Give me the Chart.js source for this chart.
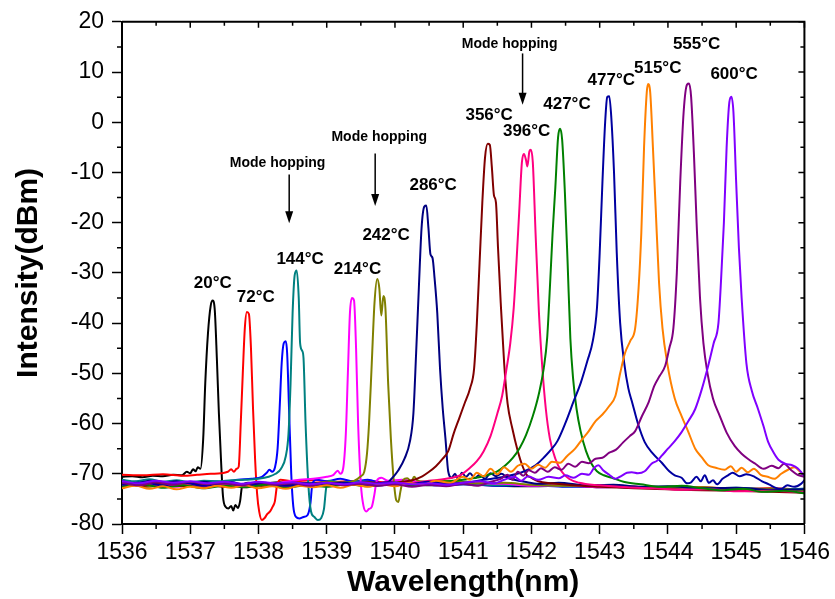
<!DOCTYPE html>
<html>
<head>
<meta charset="utf-8">
<title>Wavelength vs temperature</title>
<script src="https://cdn.jsdelivr.net/npm/chart.js@4/dist/chart.umd.min.js"></script>
<style>
  html, body { margin: 0; padding: 0; background: #fff; }
  #wrap { width: 835px; height: 599px; }
</style>
</head>
<body>
<div id="wrap"><canvas id="chart" width="835" height="599"></canvas></div>
<script>
// Spectra: [wavelength nm, intensity dBm]
const s20 = [[1536.0,-70.6],[1536.15,-70.5],[1536.3,-70.7],[1536.45,-70.4],[1536.6,-70.5],[1536.75,-70.2],[1536.88,-70.3],[1536.95,-69.6],[1537.0,-69.9],[1537.04,-69.1],[1537.08,-69.5],[1537.11,-68.7],[1537.15,-69.0],[1537.19,-63],[1537.22,-52],[1537.26,-42],[1537.3,-36.5],[1537.33,-35.5],[1537.36,-37.5],[1537.39,-47],[1537.42,-58],[1537.45,-67],[1537.48,-74.5],[1537.52,-76.6],[1537.56,-76.9],[1537.6,-76.4],[1537.63,-77.3],[1537.66,-76.2],[1537.7,-76.8],[1537.73,-75.5],[1537.76,-72.5],[1537.85,-71.8],[1538.0,-72.1],[1538.3,-71.7],[1538.6,-72.0],[1539.0,-71.8],[1539.5,-72.2],[1540.0,-71.9],[1540.5,-72.3],[1541.0,-72.1],[1541.5,-72.4],[1542.0,-72.5],[1542.5,-72.4],[1543.0,-72.7],[1543.5,-72.6],[1544.0,-72.9],[1544.5,-72.8],[1545.0,-73.1],[1545.5,-73.0],[1546.0,-73.3]]
const s72 = [[1536.0,-70.2],[1536.3,-70.3],[1536.6,-70.1],[1536.9,-70.4],[1537.1,-70.2],[1537.3,-70.0],[1537.45,-69.9],[1537.55,-69.6],[1537.6,-69.1],[1537.64,-69.6],[1537.68,-69.0],[1537.71,-68.6],[1537.74,-60],[1537.77,-50],[1537.8,-41],[1537.83,-37.8],[1537.86,-38.2],[1537.89,-45],[1537.92,-57],[1537.95,-67],[1537.98,-74],[1538.01,-77.5],[1538.05,-79.2],[1538.09,-78.8],[1538.13,-78.0],[1538.17,-77.5],[1538.21,-76.5],[1538.24,-75.5],[1538.27,-72.5],[1538.32,-71.2],[1538.5,-71.5],[1538.8,-71.3],[1539.1,-71.6],[1539.5,-71.4],[1540.0,-71.8],[1540.5,-71.6],[1541.0,-72.0],[1541.5,-71.9],[1542.0,-72.3],[1542.5,-72.2],[1543.0,-72.5],[1543.5,-72.6],[1544.0,-72.8],[1544.5,-72.7],[1545.0,-73.0],[1545.5,-72.9],[1546.0,-73.2]]
const sHop = [[1536.0,-71.8],[1536.1,-72.4],[1536.2,-71.6],[1536.35,-72.6],[1536.5,-71.9],[1536.7,-72.3],[1536.9,-71.7],[1537.1,-71.9],[1537.3,-71.5],[1537.5,-71.6],[1537.7,-71.2],[1537.9,-71.0],[1538.05,-70.6],[1538.12,-69.8],[1538.16,-69.2],[1538.2,-69.6],[1538.24,-68.8],[1538.28,-65],[1538.31,-57],[1538.34,-48],[1538.37,-44],[1538.4,-43.6],[1538.42,-46],[1538.45,-58],[1538.48,-70],[1538.51,-76.5],[1538.55,-78.6],[1538.6,-78.9],[1538.66,-78.6],[1538.72,-78.2],[1538.76,-76],[1538.79,-72],[1538.85,-71.2],[1539.0,-71.5],[1539.2,-71.0],[1539.4,-71.6],[1539.6,-71.2],[1539.8,-71.9],[1540.0,-72.2],[1540.3,-72.0],[1540.6,-72.3],[1541.0,-72.1],[1541.5,-72.4],[1542.0,-72.3],[1542.5,-72.6],[1543.0,-72.5],[1543.5,-72.8],[1544.0,-72.7],[1544.5,-73.0],[1545.0,-72.9],[1545.5,-73.2],[1546.0,-73.0]]
const s144 = [[1536.0,-71.2],[1536.2,-71.5],[1536.4,-71.1],[1536.6,-71.6],[1536.8,-71.3],[1537.0,-71.7],[1537.2,-71.4],[1537.4,-71.5],[1537.6,-71.3],[1537.8,-71.2],[1538.0,-71.0],[1538.15,-70.6],[1538.25,-70.0],[1538.33,-69.0],[1538.4,-66.5],[1538.44,-62],[1538.47,-52],[1538.5,-38],[1538.53,-30.5],[1538.56,-29.5],[1538.59,-35],[1538.61,-44],[1538.64,-45.5],[1538.66,-47],[1538.69,-60],[1538.73,-72],[1538.77,-77.5],[1538.82,-78.6],[1538.87,-79.2],[1538.92,-78.8],[1538.96,-77],[1538.99,-73],[1539.03,-71.4],[1539.2,-71.8],[1539.5,-71.5],[1539.8,-71.9],[1540.1,-71.6],[1540.5,-72.0],[1541.0,-71.9],[1541.5,-72.3],[1542.0,-72.2],[1542.5,-72.5],[1543.0,-72.4],[1543.5,-72.7],[1544.0,-72.6],[1544.5,-72.9],[1545.0,-72.8],[1545.5,-73.1],[1546.0,-73.0]]
const s214 = [[1536.0,-72.3],[1536.2,-71.8],[1536.4,-72.5],[1536.6,-72.0],[1536.8,-72.6],[1537.0,-72.1],[1537.2,-71.7],[1537.4,-72.2],[1537.6,-71.9],[1537.8,-72.4],[1538.0,-71.8],[1538.2,-72.0],[1538.4,-71.6],[1538.6,-71.2],[1538.8,-71.0],[1539.0,-70.6],[1539.1,-70.2],[1539.16,-69.4],[1539.2,-70.0],[1539.24,-69.0],[1539.28,-62],[1539.31,-50],[1539.34,-38],[1539.37,-35],[1539.4,-35.5],[1539.43,-45],[1539.46,-60],[1539.5,-72],[1539.54,-76.5],[1539.58,-77.5],[1539.62,-77.0],[1539.66,-76.6],[1539.7,-74],[1539.73,-71.5],[1539.8,-70.8],[1539.9,-71.4],[1540.1,-71.2],[1540.4,-71.7],[1540.8,-71.5],[1541.2,-71.9],[1541.6,-72.0],[1542.0,-72.4],[1542.5,-72.3],[1543.0,-72.7],[1543.5,-72.6],[1544.0,-72.9],[1544.5,-73.1],[1545.0,-73.0],[1545.5,-73.4],[1546.0,-73.5]]
const s242 = [[1536.0,-72.8],[1536.2,-72.2],[1536.4,-72.6],[1536.6,-72.0],[1536.8,-72.5],[1537.0,-71.9],[1537.2,-72.4],[1537.4,-72.1],[1537.6,-72.6],[1537.8,-72.2],[1538.0,-72.5],[1538.2,-71.9],[1538.4,-72.3],[1538.6,-71.8],[1538.8,-72.1],[1539.0,-71.6],[1539.2,-71.8],[1539.4,-71.4],[1539.5,-70.5],[1539.55,-69.6],[1539.59,-66],[1539.62,-60],[1539.66,-48],[1539.7,-36],[1539.74,-31.2],[1539.77,-33],[1539.8,-38.5],[1539.83,-34.6],[1539.86,-37],[1539.9,-52],[1539.94,-63],[1539.98,-71],[1540.02,-75.3],[1540.05,-75.6],[1540.08,-73.5],[1540.12,-71.2],[1540.18,-70.9],[1540.24,-71.5],[1540.28,-70.6],[1540.33,-71.3],[1540.5,-71.6],[1540.8,-71.4],[1541.2,-71.9],[1541.6,-71.8],[1542.0,-72.2],[1542.5,-72.4],[1543.0,-72.3],[1543.5,-72.7],[1544.0,-72.8],[1544.5,-72.7],[1545.0,-73.1],[1545.5,-73.0],[1546.0,-73.3]]
const s286 = [[1536.0,-71.5],[1536.2,-72.0],[1536.4,-71.4],[1536.6,-71.9],[1536.8,-71.5],[1537.0,-72.1],[1537.2,-71.6],[1537.4,-72.0],[1537.6,-71.7],[1537.8,-72.2],[1538.0,-71.8],[1538.3,-72.3],[1538.6,-71.9],[1538.9,-72.2],[1539.2,-71.8],[1539.5,-72.1],[1539.7,-72.4],[1539.85,-72.2],[1539.95,-71.0],[1540.05,-69.3],[1540.14,-67.0],[1540.22,-63.5],[1540.27,-58],[1540.31,-46],[1540.35,-33],[1540.39,-21],[1540.43,-16.8],[1540.46,-16.6],[1540.49,-21],[1540.52,-26.3],[1540.55,-27],[1540.58,-31],[1540.62,-38],[1540.66,-49],[1540.7,-57],[1540.74,-63],[1540.78,-69.5],[1540.83,-70.8],[1540.88,-70.0],[1540.93,-71.2],[1540.98,-69.8],[1541.04,-70.6],[1541.1,-69.9],[1541.17,-70.9],[1541.24,-70.2],[1541.32,-71.0],[1541.4,-69.9],[1541.48,-70.5],[1541.56,-70.0],[1541.65,-70.8],[1541.75,-71.2],[1541.9,-71.6],[1542.1,-72.0],[1542.4,-71.8],[1542.8,-72.3],[1543.2,-72.2],[1543.6,-72.6],[1544.0,-72.5],[1544.5,-72.9],[1545.0,-72.8],[1545.5,-73.2],[1546.0,-73.1]]
const s356 = [[1536.0,-72.0],[1536.3,-72.4],[1536.6,-71.9],[1536.9,-72.5],[1537.2,-72.0],[1537.5,-72.6],[1537.8,-72.1],[1538.1,-72.4],[1538.4,-71.9],[1538.7,-72.3],[1539.0,-71.8],[1539.3,-72.2],[1539.6,-71.7],[1539.9,-72.0],[1540.1,-71.6],[1540.25,-71.3],[1540.4,-70.5],[1540.5,-69.6],[1540.6,-68.5],[1540.7,-67.0],[1540.78,-65.5],[1540.86,-62],[1540.94,-59],[1541.02,-56],[1541.1,-53],[1541.16,-49],[1541.2,-40],[1541.24,-28],[1541.28,-16],[1541.32,-7],[1541.36,-4.3],[1541.39,-4.5],[1541.42,-9],[1541.45,-14.5],[1541.48,-16],[1541.51,-25],[1541.55,-36],[1541.6,-48],[1541.65,-56],[1541.72,-61],[1541.8,-65.5],[1541.87,-68.5],[1541.93,-70.2],[1542.0,-70.8],[1542.1,-71.5],[1542.3,-71.9],[1542.6,-72.3],[1543.0,-72.6],[1543.5,-72.9],[1544.0,-73.1],[1544.5,-73.3],[1545.0,-73.4],[1545.5,-73.6],[1546.0,-73.8]]
const s396 = [[1536.0,-72.4],[1536.3,-71.9],[1536.6,-72.5],[1536.9,-72.0],[1537.2,-72.6],[1537.5,-72.1],[1537.8,-72.7],[1538.1,-72.2],[1538.4,-72.5],[1538.7,-72.0],[1539.0,-72.4],[1539.3,-71.9],[1539.6,-72.2],[1539.9,-71.7],[1540.2,-71.9],[1540.5,-71.4],[1540.75,-71.0],[1540.95,-70.3],[1541.1,-68.8],[1541.2,-67.5],[1541.3,-65.5],[1541.4,-62.5],[1541.5,-58],[1541.57,-54.5],[1541.63,-49.5],[1541.69,-44],[1541.74,-37],[1541.78,-28],[1541.82,-18],[1541.86,-8],[1541.89,-6.3],[1541.92,-7.5],[1541.94,-8.8],[1541.97,-5.8],[1541.99,-5.5],[1542.02,-8],[1542.06,-22],[1542.11,-38],[1542.16,-49],[1542.21,-57],[1542.27,-63],[1542.35,-67],[1542.44,-69.5],[1542.55,-71.0],[1542.7,-71.8],[1543.0,-72.3],[1543.4,-72.7],[1543.8,-72.9],[1544.2,-73.2],[1544.6,-73.1],[1545.0,-73.5],[1545.5,-73.4],[1546.0,-73.7]]
const s427 = [[1536.0,-72.6],[1536.3,-72.1],[1536.6,-72.8],[1536.9,-72.3],[1537.2,-72.9],[1537.5,-72.4],[1537.8,-72.7],[1538.1,-72.2],[1538.4,-72.8],[1538.7,-72.3],[1539.0,-72.6],[1539.3,-72.1],[1539.6,-72.5],[1539.9,-72.0],[1540.2,-72.3],[1540.5,-71.8],[1540.8,-71.5],[1541.1,-71.0],[1541.35,-70.3],[1541.5,-69.5],[1541.62,-68.3],[1541.73,-66.8],[1541.83,-64.8],[1541.92,-62.3],[1542.02,-58.5],[1542.11,-54],[1542.18,-49],[1542.23,-43],[1542.27,-33],[1542.31,-22],[1542.35,-13],[1542.39,-3],[1542.42,-1.3],[1542.45,-3.5],[1542.49,-14],[1542.53,-28],[1542.57,-43],[1542.61,-51],[1542.66,-57],[1542.72,-61.5],[1542.8,-65.5],[1542.88,-68],[1542.96,-69.5],[1543.06,-70.3],[1543.18,-70.8],[1543.35,-71.6],[1543.6,-72.1],[1543.9,-72.6],[1544.2,-72.4],[1544.5,-72.9],[1544.8,-73.3],[1545.1,-73.0],[1545.4,-73.6],[1545.7,-73.4],[1546.0,-73.9]]
const s477 = [[1536.0,-72.2],[1536.3,-71.7],[1536.6,-72.3],[1536.9,-71.8],[1537.2,-72.4],[1537.5,-71.9],[1537.8,-72.3],[1538.1,-71.8],[1538.4,-72.4],[1538.7,-71.9],[1539.0,-72.3],[1539.3,-71.8],[1539.6,-72.2],[1539.9,-71.7],[1540.2,-72.1],[1540.5,-71.6],[1540.8,-72.0],[1541.0,-71.8],[1541.3,-71.2],[1541.6,-70.6],[1541.86,-69.7],[1542.06,-68.3],[1542.2,-66.5],[1542.3,-65],[1542.38,-63.5],[1542.5,-59.8],[1542.62,-55.5],[1542.72,-52],[1542.82,-47.5],[1542.9,-43.5],[1542.96,-37],[1543.0,-26],[1543.04,-12],[1543.08,0],[1543.11,5],[1543.14,5.2],[1543.17,1],[1543.21,-10],[1543.25,-26],[1543.3,-40],[1543.36,-48],[1543.42,-53],[1543.48,-56],[1543.56,-60],[1543.66,-63.7],[1543.78,-66],[1543.91,-67.8],[1544.02,-69.5],[1544.1,-70.3],[1544.2,-70.8],[1544.28,-71.9],[1544.34,-71.7],[1544.42,-70.6],[1544.48,-71.5],[1544.54,-70.3],[1544.6,-71.8],[1544.66,-71.3],[1544.72,-72.1],[1544.8,-71.0],[1544.88,-70.3],[1544.95,-69.8],[1545.05,-70.5],[1545.15,-70.1],[1545.27,-70.6],[1545.38,-71.5],[1545.48,-72.1],[1545.58,-72.8],[1545.66,-73.0],[1545.75,-72.3],[1545.85,-72.6],[1545.95,-72.0],[1546.0,-71.3]]
const s515 = [[1536.0,-72.9],[1536.2,-72.4],[1536.4,-73.0],[1536.6,-72.5],[1536.8,-73.1],[1537.0,-72.6],[1537.2,-72.9],[1537.4,-72.4],[1537.6,-72.8],[1537.8,-72.3],[1538.0,-72.9],[1538.2,-72.5],[1538.4,-73.0],[1538.6,-72.4],[1538.8,-72.7],[1539.0,-72.3],[1539.2,-72.8],[1539.4,-72.2],[1539.6,-72.6],[1539.8,-72.1],[1540.0,-72.5],[1540.2,-71.9],[1540.4,-72.2],[1540.6,-71.4],[1540.8,-71.8],[1541.0,-70.6],[1541.1,-71.2],[1541.2,-69.8],[1541.3,-70.5],[1541.4,-69.0],[1541.5,-70.1],[1541.6,-68.7],[1541.7,-69.6],[1541.8,-68.4],[1541.9,-68.0],[1542.0,-69.0],[1542.1,-68.2],[1542.2,-68.8],[1542.3,-67.6],[1542.42,-67.8],[1542.52,-66.5],[1542.64,-65.0],[1542.74,-63.2],[1542.84,-61.5],[1542.94,-59.5],[1543.04,-58.2],[1543.14,-56.5],[1543.23,-54.5],[1543.3,-50],[1543.37,-46],[1543.45,-43.5],[1543.52,-41],[1543.57,-33],[1543.61,-22],[1543.65,-5],[1543.69,6],[1543.71,7.6],[1543.74,6],[1543.78,-5],[1543.82,-17],[1543.87,-32],[1543.92,-41],[1543.99,-48],[1544.1,-55],[1544.2,-58.5],[1544.3,-61.7],[1544.4,-65],[1544.5,-66.8],[1544.59,-68.3],[1544.7,-68.8],[1544.83,-69.2],[1544.92,-68.5],[1545.0,-69.6],[1545.08,-68.8],[1545.17,-69.7],[1545.26,-69.0],[1545.36,-70.2],[1545.46,-70.6],[1545.56,-71.0],[1545.66,-70.0],[1545.76,-69.2],[1545.85,-68.7],[1545.93,-69.5],[1546.0,-70.5]]
const s555 = [[1536.0,-71.8],[1536.25,-72.3],[1536.5,-71.7],[1536.75,-72.2],[1537.0,-71.6],[1537.25,-72.1],[1537.5,-71.8],[1537.75,-72.3],[1538.0,-71.7],[1538.25,-72.2],[1538.5,-71.9],[1538.75,-72.4],[1539.0,-71.8],[1539.25,-72.3],[1539.5,-72.0],[1539.75,-72.4],[1540.0,-72.1],[1540.25,-72.6],[1540.5,-72.2],[1540.75,-72.5],[1541.0,-72.0],[1541.2,-72.4],[1541.4,-71.6],[1541.55,-71.0],[1541.65,-70.2],[1541.72,-71.2],[1541.8,-69.6],[1541.88,-70.4],[1541.96,-69.3],[1542.05,-69.8],[1542.14,-68.9],[1542.24,-69.6],[1542.34,-68.7],[1542.44,-69.2],[1542.54,-68.0],[1542.64,-68.6],[1542.74,-67.6],[1542.84,-67.9],[1542.94,-67.0],[1543.04,-66.8],[1543.14,-65.8],[1543.24,-65.2],[1543.34,-63.8],[1543.44,-62.5],[1543.52,-61.5],[1543.62,-58.5],[1543.71,-56],[1543.8,-52.5],[1543.88,-50.5],[1543.96,-48.5],[1544.02,-45],[1544.08,-41],[1544.13,-30],[1544.18,-12],[1544.23,2],[1544.28,7.5],[1544.31,7.7],[1544.34,5],[1544.38,-6],[1544.42,-20],[1544.47,-35],[1544.52,-44],[1544.58,-50],[1544.66,-55],[1544.76,-58.5],[1544.86,-61.8],[1544.98,-64.5],[1545.08,-66.0],[1545.17,-67],[1545.28,-68.0],[1545.4,-69.0],[1545.52,-68.4],[1545.62,-68.9],[1545.7,-68.0],[1545.8,-69.2],[1545.9,-70.2],[1546.0,-70.6]]
const s600 = [[1536.0,-71.5],[1536.25,-71.9],[1536.5,-71.4],[1536.75,-71.8],[1537.0,-71.5],[1537.25,-71.9],[1537.5,-71.6],[1537.75,-72.0],[1538.0,-71.6],[1538.25,-71.9],[1538.5,-71.7],[1538.75,-72.1],[1539.0,-71.8],[1539.25,-72.1],[1539.5,-71.7],[1539.75,-72.0],[1540.0,-71.8],[1540.25,-72.1],[1540.5,-71.9],[1540.75,-72.2],[1541.0,-71.8],[1541.25,-71.5],[1541.45,-71.9],[1541.6,-71.2],[1541.75,-70.6],[1541.85,-71.4],[1541.95,-70.5],[1542.1,-71.2],[1542.25,-70.6],[1542.4,-70.9],[1542.5,-70.3],[1542.62,-70.8],[1542.74,-70.0],[1542.84,-70.2],[1542.92,-68.8],[1542.98,-68.3],[1543.05,-69.3],[1543.14,-70.2],[1543.23,-71.0],[1543.32,-70.4],[1543.4,-69.8],[1543.47,-69.7],[1543.56,-69.9],[1543.66,-69.5],[1543.76,-68.0],[1543.84,-67.4],[1543.91,-66.4],[1544.0,-65.0],[1544.1,-63.5],[1544.2,-61.7],[1544.3,-59.5],[1544.4,-57.1],[1544.5,-53],[1544.59,-48.5],[1544.67,-44],[1544.74,-40],[1544.78,-31],[1544.82,-20],[1544.86,-5],[1544.9,4],[1544.93,5.1],[1544.96,2],[1545.0,-12],[1545.04,-25],[1545.08,-35],[1545.15,-48],[1545.23,-53.5],[1545.32,-57.1],[1545.4,-60.5],[1545.47,-63.7],[1545.55,-65.8],[1545.62,-67.2],[1545.72,-68.0],[1545.82,-68.3],[1545.9,-68.9],[1545.96,-69.8],[1546.0,-70.5]]

const seriesList = [s20, s72, sHop, s144, s214, s242, s286, s356, s396, s427, s477, s515, s555, s600]
const seriesColors = ["#000000", "#ff0000", "#0000ff", "#008080", "#ff00ff", "#808000", "#000080", "#800000", "#ff0080", "#008000", "#0000a0", "#ff8000", "#800080", "#8000ff"]

// Axis ranges and tick steps
const xRange = [1536, 1546]
const yRange = [-80, 20]

// Temperature labels: text, anchor wavelength, anchor intensity
const tempText = ["20°C", "72°C", "144°C", "214°C", "242°C", "286°C", "356°C", "396°C", "427°C", "477°C", "515°C", "555°C", "600°C"]
const tempX = [1537.33, 1537.96, 1538.61, 1539.45, 1539.87, 1540.56, 1541.38, 1541.93, 1542.52, 1543.17, 1543.85, 1544.42, 1544.97]
const tempY = [-32.0, -34.8, -27.2, -29.2, -22.5, -12.5, 1.3, -1.8, 3.5, 8.3, 10.7, 15.6, 9.5]

// "Mode hopping" notes: text position, arrow x, arrow top and tip
const hopTextX = [1538.28, 1539.77, 1541.68]
const hopTextY = [-8.2, -3.0, 15.6]
const hopArrowX = [1538.45, 1539.71, 1541.87]
const hopArrowTop = [-10.4, -6.2, 13.7]
const hopArrowTip = [-20.1, -16.7, 3.5]

document.addEventListener("DOMContentLoaded", () => {
  const ctx = document.getElementById("chart").getContext("2d")

  // Frame on top/right, minor ticks, labels and arrows
  const decorPlugin = {
    id: "decor",
    afterDraw(chart) {
      const { ctx, chartArea } = chart
      const xs = chart.scales.x
      const ys = chart.scales.y
      const { left, right, top, bottom } = chartArea
      ctx.save()
      ctx.strokeStyle = "#000"

      // top and right border
      ctx.lineWidth = 2
      ctx.beginPath()
      ctx.moveTo(left, top)
      ctx.lineTo(right, top)
      ctx.lineTo(right, bottom)
      ctx.stroke()

      ctx.lineWidth = 1.5
      ctx.beginPath()
      for (let v = xRange[0]; v <= xRange[1] + 0.001; v += 0.5) {
        const px = xs.getPixelForValue(v)
        const major = Math.abs(v - Math.round(v)) < 0.01
        // minor ticks below the x axis
        if (!major) {
          ctx.moveTo(px, bottom)
          ctx.lineTo(px, bottom + 5)
        }
        // inward ticks on the top border
        ctx.moveTo(px, top)
        ctx.lineTo(px, top + (major ? 6 : 4))
      }
      for (let v = yRange[0]; v <= yRange[1]; v += 5) {
        const py = ys.getPixelForValue(v)
        const major = v % 10 === 0
        if (!major) {
          ctx.moveTo(left, py)
          ctx.lineTo(left - 5, py)
        }
        ctx.moveTo(right, py)
        ctx.lineTo(right - (major ? 6 : 4), py)
      }
      ctx.stroke()

      // temperature labels
      ctx.fillStyle = "#000"
      ctx.textAlign = "center"
      ctx.textBaseline = "middle"
      ctx.font = "bold 17px 'Liberation Sans', Arial, sans-serif"
      tempText.forEach((t, i) => {
        ctx.fillText(t, xs.getPixelForValue(tempX[i]), ys.getPixelForValue(tempY[i]))
      })

      // mode hopping notes
      ctx.font = "bold 14px 'Liberation Sans', Arial, sans-serif"
      hopTextX.forEach((tx, i) => {
        ctx.fillText("Mode hopping", xs.getPixelForValue(tx), ys.getPixelForValue(hopTextY[i]))
        const ax = xs.getPixelForValue(hopArrowX[i])
        const y1 = ys.getPixelForValue(hopArrowTop[i])
        const y2 = ys.getPixelForValue(hopArrowTip[i])
        ctx.lineWidth = 1.5
        ctx.beginPath()
        ctx.moveTo(ax, y1)
        ctx.lineTo(ax, y2 - 10)
        ctx.stroke()
        ctx.beginPath()
        ctx.moveTo(ax - 4, y2 - 12)
        ctx.lineTo(ax + 4, y2 - 12)
        ctx.lineTo(ax, y2)
        ctx.closePath()
        ctx.fill()
      })
      ctx.restore()
    },
  }

  const datasets = seriesList.map((s, i) => ({
    data: s.map((p) => ({ x: p[0], y: p[1] })),
    borderColor: seriesColors[i],
    borderWidth: 2,
    pointRadius: 0,
    cubicInterpolationMode: "monotone",
    fill: false,
    order: seriesList.length - i,
  }))

  window.spectraChart = new Chart(ctx, {
    type: "line",
    data: { datasets },
    options: {
      responsive: false,
      animation: false,
      devicePixelRatio: 1,
      layout: { padding: { top: 20, right: 28, left: 0, bottom: 0 } },
      plugins: {
        legend: { display: false },
        tooltip: { enabled: false },
      },
      scales: {
        x: {
          type: "linear",
          min: xRange[0],
          max: xRange[1],
          afterFit: (scale) => { scale.height = 75 },
          ticks: {
            stepSize: 1,
            color: "#000",
            padding: 5,
            font: { family: "'Liberation Sans', Arial, sans-serif", size: 23 },
            callback: (v) => String(v),
          },
          grid: { drawOnChartArea: false, drawTicks: true, tickLength: 10, tickWidth: 1.5, tickColor: "#000" },
          border: { display: true, color: "#000", width: 2 },
          title: {
            display: true,
            text: "Wavelength(nm)",
            color: "#000",
            padding: { top: 0, bottom: 1 },
            font: { family: "'Liberation Sans', Arial, sans-serif", size: 30, weight: "bold", lineHeight: 1 },
          },
        },
        y: {
          min: yRange[0],
          max: yRange[1],
          afterFit: (scale) => { scale.width = 122 },
          ticks: {
            stepSize: 10,
            color: "#000",
            padding: 8,
            font: { family: "'Liberation Sans', Arial, sans-serif", size: 23 },
          },
          grid: { drawOnChartArea: false, drawTicks: true, tickLength: 10, tickWidth: 1.5, tickColor: "#000" },
          border: { display: true, color: "#000", width: 2 },
          title: {
            display: true,
            text: "Intensity(dBm)",
            color: "#000",
            padding: { top: 14, bottom: 0 },
            font: { family: "'Liberation Sans', Arial, sans-serif", size: 30, weight: "bold", lineHeight: 1 },
          },
        },
      },
    },
    plugins: [decorPlugin],
  })
})
</script>
</body>
</html>
